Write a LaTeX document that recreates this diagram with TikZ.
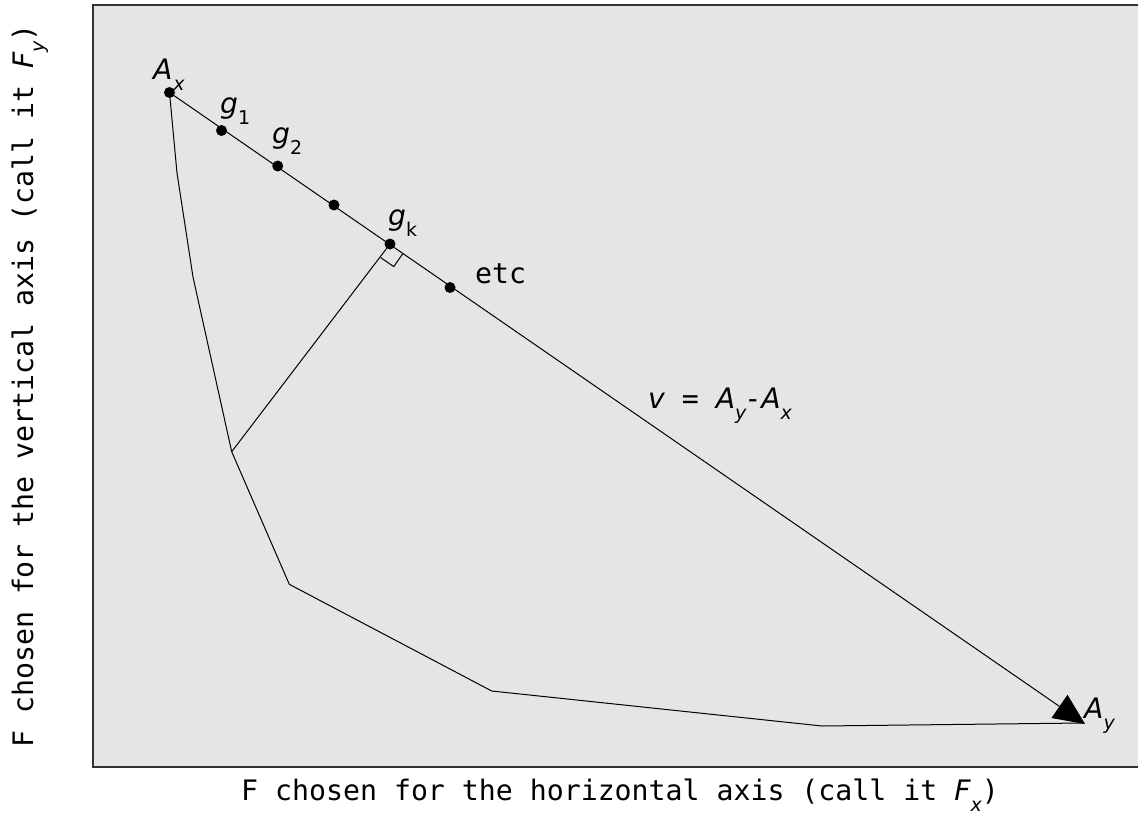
\documentclass[tikz,border=0pt]{standalone}
\usepackage{fontspec}
\setmainfont{DejaVu Sans Mono}
\newfontfamily\dvs{DejaVu Sans}
\usetikzlibrary{arrows.meta,calc}
\definecolor{bg}{RGB}{229,229,229}
\definecolor{frame}{RGB}{50,50,50}
\newcommand\mi[1]{{\dvs\itshape #1}}
\newcommand\sbs[1]{\raisebox{-11pt}{\fontsize{19}{20}\selectfont #1}}
\tikzset{
  lbl/.style={font=\fontsize{28.2}{33}\selectfont, inner sep=0pt, anchor=base west},
  dotnode/.style={circle, fill=black, inner sep=0pt, minimum size=11pt},
  thinline/.style={line width=1pt, black},
  framestroke/.style={line width=1.5pt, frame}
}
\begin{document}
\begin{tikzpicture}[x=1pt,y=-1pt]
\useasboundingbox (0,0) rectangle (1138,816);
\fill[bg] (93,5) rectangle (1138,767);
\draw[framestroke] (1138,5) -- (93,5) -- (93,767) -- (1138,767);

% points
\coordinate (Ax) at (169.5,92.5);
\coordinate (Ay) at (1085,724);
\coordinate (p1) at (177,173);
\coordinate (p2) at (193,277);
\coordinate (P) at (231.7,451.7);
\coordinate (p4) at (289.3,584.3);
\coordinate (p5) at (491.7,691);
\coordinate (p6) at (822,726);
\coordinate (pe) at (1083,723);
\coordinate (gkc) at (390,244);

% polygonal path
\draw[thinline, line join=round] (Ax) -- (p1) -- (p2) -- (P) -- (p4) -- (p5) -- (p6) -- (pe);

% main vector
\draw[thinline, -{Triangle[length=31pt,width=28pt]}] (Ax) -- (Ay);

% perpendicular and right-angle mark
\coordinate (F) at ($(Ax)!(gkc)!(Ay)$);
\coordinate (Fu) at ($(F)!16pt!(Ay)$);
\coordinate (Fn) at ($(F)!16pt!-90:(Ay)$);
\coordinate (Fc) at ($(Fn)+(Fu)-(F)$);
\draw[thinline] (P) -- (F);
\draw[thinline] (Fn) -- (Fc) -- (Fu);

% dots
\node[dotnode] (dAx) at (Ax) {};
\node[dotnode] (g1) at (221.5,130.5) {};
\node[dotnode] (g2) at (277.7,166) {};
\node[dotnode] (g3) at (334,205) {};
\node[dotnode] (gk) at (gkc) {};
\node[dotnode] (g5) at (450,287.5) {};

% labels
\node[lbl] (lAx) at (153,80) {\mi{A}\kern1pt\sbs{\mi{x}}};
\node[lbl] (lg1) at (220,113) {\mi{g}\sbs{\dvs 1}};
\node[lbl] (lg2) at (272,143) {\mi{g}\sbs{\dvs 2}};
\node[lbl] (lgk) at (388,225) {\mi{g}\sbs{\dvs k}};
\node[lbl] (letc) at (475,283) {etc};
\node[lbl] (lv) at (648,408) {\mi{v} = \mi{A}\sbs{\mi{y}}\kern-2pt-\mi{A}\sbs{\mi{x}}};
\node[lbl] (lAy) at (1084,718) {\mi{A}\sbs{\mi{y}}};

% axis labels
\node[lbl, anchor=base] (xl) at (620,800) {F chosen for the horizontal axis (call it \mi{F}\sbs{\mi{x}})};
\node[lbl, anchor=base, rotate=90] (yl) at (33,386) {F chosen for the vertical axis (call it \mi{F}\sbs{\mi{y}})};
\end{tikzpicture}
\end{document}
